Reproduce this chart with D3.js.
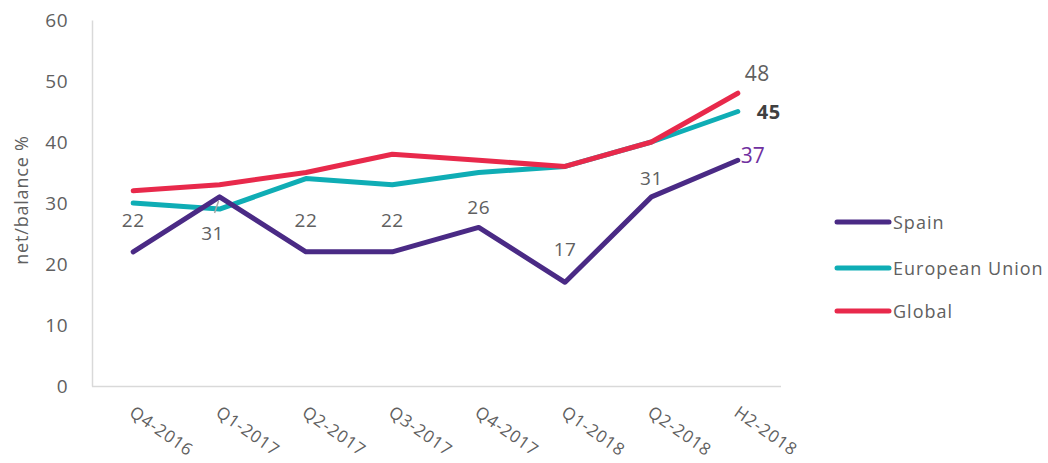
<!DOCTYPE html>
<html><head><meta charset="utf-8">
<script src="https://cdn.jsdelivr.net/npm/d3@7"></script>
<style>body{margin:0;background:#fff;} text{font-family:"Open Sans","Noto Sans",sans-serif;}</style>
</head><body>
<svg id="c" width="1048" height="463"></svg>
<script>
const categories = ["Q4-2016","Q1-2017","Q2-2017","Q3-2017","Q4-2017","Q1-2018","Q2-2018","H2-2018"];
const spain = [22,31,22,22,26,17,31,37];
const eu = [30,29,34,33,35,36,40,45];
const global = [32,33,35,38,37,36,40,48];
const yTicks = [0,10,20,30,40,50,60];
const seriesNames = ["Spain","European Union","Global"];

const svg = d3.select("#c");
const x = d3.scalePoint().domain(categories).range([90,781]).padding(0.5);
const y = d3.scaleLinear().domain([0,60]).range([386,20]);
const colors = {"Spain":"#4a2a85","European Union":"#0fadb5","Global":"#e8294b"};
const txt = "#606060";

// axes
const yAx = svg.append("g").attr("transform","translate(92,0)")
  .call(d3.axisLeft(y).tickValues(yTicks).tickSize(0).tickPadding(24));
yAx.select(".domain").attr("stroke","#d9d9d9").attr("stroke-width",1.5);
yAx.selectAll("text").attr("fill",txt).style("font-size","19px").style("letter-spacing","0.5px");

const xAx = svg.append("g").attr("transform","translate(0,386)")
  .call(d3.axisBottom(x).tickSize(0).tickPadding(0));
xAx.select(".domain").attr("d","M92,0.5H781").attr("stroke","#d9d9d9").attr("stroke-width",1.5);
xAx.selectAll("text").attr("fill",txt).style("font-size","17px").style("letter-spacing","0.8px")
  .attr("text-anchor","start").attr("y",0).attr("dy","0.35em")
  .attr("transform","translate(-2,24) rotate(35)");

svg.append("text").attr("transform","translate(21,200) rotate(-90)")
  .attr("text-anchor","middle").attr("dominant-baseline","central")
  .attr("fill",txt).style("font-size","18px").style("letter-spacing","0.8px")
  .text("net/balance %");

const line = d3.line().x((d,i)=>x(categories[i])).y(d=>y(d));
const data = [["Spain",spain],["European Union",eu],["Global",global]];
[ data[1], data[0], data[2] ].forEach(([name,vals])=>{
  svg.append("path").datum(vals).attr("d",line).attr("fill","none")
    .attr("stroke",colors[name]).attr("stroke-width",5)
    .attr("stroke-linecap","round").attr("stroke-linejoin","round");
});

// Spain labels
const dyOff = [-32,36,-32,-32,-20,-33,-19];
const dxOff = [0,-7,0,0,0,0,0];
spain.forEach((v,i)=>{
  if(i===spain.length-1) return;
  svg.append("text").attr("x",x(categories[i])+dxOff[i]).attr("y",y(v)+dyOff[i])
    .attr("text-anchor","middle").attr("dominant-baseline","central")
    .attr("fill",txt).style("font-size","19px").style("letter-spacing","0.5px").text(v);
});
// leader line for Q1-2017
svg.append("line").attr("x1",x(categories[1])-5).attr("y1",y(spain[1])+16)
  .attr("x2",x(categories[1])-1).attr("y2",y(spain[1])+4)
  .attr("stroke","#a6a6a6").attr("stroke-width",1.5);

// end labels
const last = categories.length-1;
svg.append("text").attr("x",x(categories[last])+7).attr("y",y(global[last])-20)
  .attr("dominant-baseline","central").attr("fill",txt).style("font-size","21px").style("letter-spacing","0.5px").text(global[last]);
svg.append("text").attr("x",x(categories[last])+19).attr("y",y(eu[last]))
  .attr("dominant-baseline","central").attr("fill","#404040").style("font-size","20px").style("font-weight","bold").style("letter-spacing","0.5px").text(eu[last]);
svg.append("text").attr("x",x(categories[last])+3).attr("y",y(spain[last])-5)
  .attr("dominant-baseline","central").attr("fill","#7030a0").style("font-size","21px").text(spain[last]);

// legend
const legY = [222,268,311];
seriesNames.forEach((n,i)=>{
  svg.append("line").attr("x1",837).attr("x2",889).attr("y1",legY[i]).attr("y2",legY[i])
    .attr("stroke",colors[n]).attr("stroke-width",5).attr("stroke-linecap","round");
  svg.append("text").attr("x",893).attr("y",legY[i]).attr("dominant-baseline","central")
    .attr("fill",txt).style("font-size","18px").style("letter-spacing","1px").text(n);
});
</script>
</body></html>
